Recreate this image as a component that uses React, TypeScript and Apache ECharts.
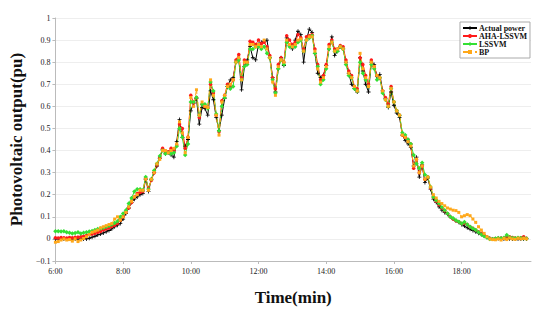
import React, { useEffect, useRef } from "react";
import * as echarts from "echarts";

// sample step: 5 minutes, starting 6:00 (minute 0)
const stepMinutes = 5;

const actualPower = [
  0, 0, 0, 0, 0, 0, 0, 0, 0, 0, 0, 0,
  0.003, 0.008, 0.012, 0.018, 0.022, 0.027, 0.032, 0.038, 0.045, 0.055, 0.062, 0.07,
  0.09, 0.115, 0.14, 0.165, 0.18, 0.19, 0.2, 0.205, 0.27, 0.215, 0.27, 0.3,
  0.33, 0.365, 0.405, 0.385, 0.39, 0.38, 0.37, 0.44, 0.54, 0.46, 0.42, 0.45,
  0.58, 0.615, 0.635, 0.52, 0.595, 0.59, 0.56, 0.67, 0.63, 0.55, 0.49, 0.56,
  0.635, 0.69, 0.72, 0.73, 0.8, 0.815, 0.675, 0.78, 0.81, 0.87, 0.82, 0.81,
  0.88, 0.89, 0.895, 0.9, 0.82, 0.73, 0.665, 0.77, 0.82, 0.785, 0.91, 0.875,
  0.86, 0.9, 0.94, 0.925, 0.8, 0.9, 0.95, 0.935, 0.84, 0.75, 0.73, 0.74,
  0.785, 0.86, 0.915, 0.83, 0.85, 0.87, 0.86, 0.8, 0.75, 0.7, 0.68, 0.665,
  0.82, 0.76, 0.7, 0.665, 0.8, 0.79, 0.735, 0.745, 0.67, 0.635, 0.595, 0.665,
  0.605, 0.57, 0.55, 0.47, 0.445, 0.43, 0.415, 0.33, 0.37, 0.28, 0.335, 0.255,
  0.275, 0.225, 0.18, 0.165, 0.145, 0.13, 0.12, 0.112, 0.1, 0.09, 0.082, 0.075,
  0.065, 0.058, 0.05, 0.044, 0.038, 0.032, 0.026, 0.02, 0.014, 0.008, 0.003, 0,
  0, 0.002, 0, 0, 0, 0.001, 0, 0, 0, 0, 0, 0,
];

const ahaLssvm = [
  0.005, 0.004, 0.006, 0.005, 0.004, 0.006, 0.005, 0.007, 0.008, 0.01, 0.012, 0.015,
  0.02, 0.022, 0.026, 0.03, 0.034, 0.04, 0.045, 0.05, 0.056, 0.062, 0.07, 0.085,
  0.1, 0.12, 0.14, 0.165, 0.19, 0.205, 0.21, 0.215, 0.275, 0.23, 0.265, 0.3,
  0.335, 0.37, 0.41, 0.395, 0.395, 0.41, 0.4, 0.425, 0.52, 0.5, 0.41, 0.46,
  0.65, 0.615, 0.64, 0.55, 0.61, 0.6, 0.595, 0.7, 0.66, 0.56, 0.485, 0.625,
  0.65, 0.7, 0.69, 0.72, 0.81, 0.835, 0.73, 0.81, 0.8, 0.895, 0.89, 0.88,
  0.9, 0.885, 0.89, 0.87, 0.83, 0.73, 0.68, 0.79, 0.82, 0.8, 0.92, 0.9,
  0.88, 0.89, 0.925, 0.91, 0.86, 0.915, 0.92, 0.925, 0.86, 0.79, 0.72, 0.74,
  0.79, 0.88, 0.9, 0.86, 0.86, 0.875, 0.87, 0.81, 0.76, 0.74, 0.69, 0.68,
  0.82, 0.79, 0.74, 0.7, 0.81, 0.78, 0.74, 0.73, 0.67, 0.64, 0.61, 0.69,
  0.62, 0.58, 0.56, 0.47, 0.46, 0.45, 0.43, 0.32, 0.36, 0.3, 0.33, 0.27,
  0.28, 0.23, 0.19, 0.17, 0.155, 0.14, 0.128, 0.115, 0.1, 0.09, 0.082, 0.078,
  0.07, 0.072, 0.065, 0.055, 0.048, 0.04, 0.032, 0.025, 0.016, 0.008, 0.002, 0,
  0.002, 0.003, 0.004, 0.003, 0.008, 0.01, 0.006, 0.004, 0.003, 0.005, 0.01, 0.003,
];

const lssvm = [
  0.035, 0.035, 0.033, 0.035, 0.03, 0.028, 0.025, 0.027, 0.03, 0.025, 0.028, 0.03,
  0.033, 0.036, 0.04, 0.045, 0.047, 0.05, 0.055, 0.06, 0.065, 0.072, 0.08, 0.1,
  0.115, 0.13, 0.16, 0.185, 0.215, 0.225, 0.225, 0.22, 0.28, 0.225, 0.27, 0.31,
  0.34, 0.375, 0.4, 0.385, 0.39, 0.385, 0.39, 0.42, 0.5, 0.46, 0.38, 0.43,
  0.62, 0.62, 0.64, 0.56, 0.61, 0.61, 0.59, 0.71, 0.67, 0.565, 0.49, 0.6,
  0.64, 0.69, 0.68, 0.69, 0.8, 0.81, 0.72, 0.78, 0.79, 0.86, 0.86, 0.87,
  0.87, 0.86, 0.87, 0.84, 0.82, 0.72, 0.66, 0.77, 0.81, 0.79, 0.89, 0.87,
  0.87, 0.87, 0.89, 0.9, 0.85, 0.9, 0.91, 0.92, 0.84, 0.78, 0.7, 0.72,
  0.77, 0.86, 0.89, 0.85, 0.85, 0.87, 0.86, 0.79, 0.74, 0.73, 0.68, 0.67,
  0.8, 0.75, 0.72, 0.69, 0.79, 0.77, 0.72, 0.73, 0.66, 0.63, 0.6, 0.68,
  0.62, 0.58, 0.56, 0.48, 0.47, 0.45, 0.43, 0.38, 0.34, 0.32, 0.345, 0.29,
  0.28, 0.235, 0.19, 0.175, 0.16, 0.143, 0.13, 0.115, 0.1, 0.093, 0.085, 0.078,
  0.07, 0.077, 0.065, 0.055, 0.047, 0.04, 0.03, 0.02, 0.012, 0.006, 0, 0,
  0.002, 0.004, 0.003, 0.005, 0.018, 0.008, 0.004, 0.003, 0.005, 0.004, 0.003, 0.002,
];

const bp = [
  -0.015, -0.012, -0.005, 0, -0.005, -0.003, -0.01, 0, -0.012, -0.005, 0.002, 0.01,
  0.02, 0.03, 0.035, 0.04, 0.05, 0.055, 0.06, 0.065, 0.07, 0.09, 0.1, 0.085,
  0.1, 0.12, 0.145, 0.17, 0.19, 0.2, 0.22, 0.22, 0.27, 0.22, 0.27, 0.3,
  0.34, 0.36, 0.4, 0.4, 0.39, 0.4, 0.41, 0.43, 0.53, 0.48, 0.39, 0.46,
  0.64, 0.6, 0.675, 0.56, 0.62, 0.6, 0.595, 0.72, 0.65, 0.56, 0.47, 0.62,
  0.65, 0.69, 0.7, 0.72, 0.8, 0.82, 0.72, 0.8, 0.8, 0.88, 0.88, 0.87,
  0.88, 0.87, 0.9, 0.86, 0.82, 0.71, 0.65, 0.78, 0.81, 0.8, 0.9, 0.88,
  0.87, 0.88, 0.9, 0.905, 0.85, 0.9, 0.915, 0.915, 0.85, 0.77, 0.71, 0.73,
  0.78, 0.87, 0.89, 0.85, 0.86, 0.87, 0.86, 0.8, 0.75, 0.73, 0.69, 0.67,
  0.84, 0.77, 0.73, 0.69, 0.8, 0.78, 0.74, 0.73, 0.67, 0.63, 0.6, 0.68,
  0.62, 0.58, 0.56, 0.47, 0.46, 0.44, 0.42, 0.33, 0.36, 0.3, 0.33, 0.27,
  0.28, 0.235, 0.2, 0.185, 0.17, 0.16, 0.15, 0.14, 0.135, 0.13, 0.128, 0.12,
  0.1, 0.105, 0.11, 0.105, 0.09, 0.075, 0.055, 0.04, 0.025, 0.01, 0, -0.003,
  -0.004, 0, -0.005, 0.002, -0.003, 0.004, 0, -0.002, 0.003, 0, 0.002, 0,
];

const xTickMinutes = [0, 120, 240, 360, 480, 600, 720];
const startHour = 6;

const FONT = "'Liberation Serif', 'DejaVu Serif', serif";

const toPairs = (arr: number[]) => arr.map((v, i) => [i * stepMinutes, v]);

export default function App() {
  const ref = useRef<HTMLDivElement>(null);
  useEffect(() => {
    if (!ref.current) return;
    const chart = echarts.init(ref.current, null, { renderer: "svg" });
    const mk = (name: string, data: number[], color: string, symbol: string, size: number, dashed = false) => ({
      name,
      type: "line",
      data: toPairs(data),
      symbol,
      symbolSize: size,
      showSymbol: true,
      lineStyle: { color, width: 1, type: dashed ? "dashed" : "solid" },
      itemStyle: { color, borderWidth: 0 },
    });
    chart.setOption({
      animation: false,
      backgroundColor: "#fff",
      grid: { left: 48, right: 19, top: 18, bottom: 44 },
      legend: {
        orient: "vertical",
        right: 20,
        top: 22,
        itemWidth: 14,
        itemHeight: 5,
        itemGap: 0,
        padding: [2, 3, 2, 2],
        borderColor: "#aaa",
        borderWidth: 1,
        backgroundColor: "#fff",
        textStyle: { fontFamily: FONT, fontWeight: "bold", fontSize: 8, color: "#111", padding: [0, 0, 0, -3] },
        data: ["Actual power", "AHA-LSSVM", "LSSVM", "BP"],
      },
      xAxis: {
        type: "value",
        min: 0,
        max: 843,
        name: "Time(min)",
        nameLocation: "middle",
        nameGap: 28,
        nameTextStyle: { fontFamily: FONT, fontWeight: "bold", fontSize: 17, color: "#111" },
        axisLine: { onZero: false, lineStyle: { color: "#bbb" } },
        axisTick: { show: true, customValues: xTickMinutes, length: 3, lineStyle: { color: "#bbb" } },
        axisLabel: {
          customValues: xTickMinutes,
          fontFamily: FONT,
          fontSize: 8,
          color: "#222",
          margin: 6,
          formatter: (v: number) => `${startHour + Math.round(v / 60)}:00`,
        },
        splitLine: { show: false },
      },
      yAxis: {
        type: "value",
        min: -0.1,
        max: 1,
        interval: 0.1,
        name: "Photovoltaic output(pu)",
        nameLocation: "middle",
        nameGap: 30,
        nameTextStyle: { fontFamily: FONT, fontWeight: "bold", fontSize: 17, color: "#111" },
        axisLine: { show: true, lineStyle: { color: "#bbb" } },
        axisTick: { show: true, length: 3, lineStyle: { color: "#bbb" } },
        axisLabel: {
          fontFamily: FONT,
          fontSize: 8,
          color: "#222",
          margin: 5,
          formatter: (v: number) => {
            const r = Math.round(v * 10) / 10;
            return r < 0 ? "\u2212" + String(-r) : String(r);
          },
        },
        splitLine: { show: true, lineStyle: { color: "#eeeeee", width: 1 } },
      },
      series: [
        mk("Actual power", actualPower, "#000000", "path://M0,2H5V3H0Z M2,0H3V5H2Z", 4),
        mk("AHA-LSSVM", ahaLssvm, "#ff1a1a", "circle", 3.5),
        mk("LSSVM", lssvm, "#33e033", "diamond", 4.5),
        mk("BP", bp, "#ffa81a", "rect", 3, true),
      ],
    });
    return () => chart.dispose();
  }, []);
  return <div ref={ref} style={{ position: "fixed", left: 0, top: 0, width: 550, height: 311 }} />;
}
